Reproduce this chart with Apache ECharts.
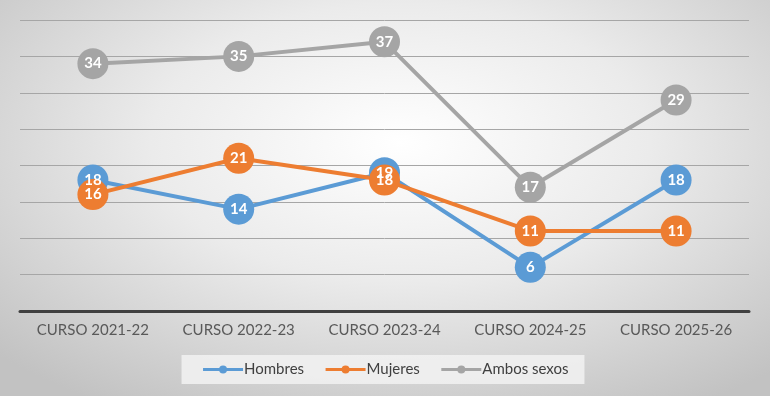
<!DOCTYPE html>
<html>
<head>
<meta charset="utf-8">
<script src="https://cdn.jsdelivr.net/npm/echarts@6/dist/echarts.min.js"></script>
<style>
  html, body { margin: 0; padding: 0; }
  #chart {
    width: 770px;
    height: 396px;
    background: radial-gradient(ellipse 72% 78% at 52% 36%, #ffffff 0%, #ebebeb 45%, #c2c2c2 100%);
  }
</style>
</head>
<body>
<div id="chart"></div>
<script>
const categories = ["CURSO 2021-22", "CURSO 2022-23", "CURSO 2023-24", "CURSO 2024-25", "CURSO 2025-26"];
const hombres = [18, 14, 19, 6, 18];
const mujeres = [16, 21, 18, 11, 11];
const ambos = [34, 35, 37, 17, 29];

const chart = echarts.init(document.getElementById("chart"));

const makeSeries = (name, data, color) => ({
  name,
  type: "line",
  data,
  symbol: "circle",
  symbolSize: 31,
  lineStyle: { color, width: 4 },
  itemStyle: { color },
  label: {
    show: true,
    position: "inside",
    color: "#fff",
    fontFamily: "Lato",
    fontWeight: "bold",
    fontSize: 15,
  },
  emphasis: { disabled: true },
});

const option = {
  backgroundColor: "transparent",
  animation: false,
  textStyle: { fontFamily: "Lato" },
  grid: { left: 20, right: 21, top: 20, bottom: 85, containLabel: false },
  xAxis: {
    type: "category",
    data: categories,
    axisLine: { lineStyle: { color: "#404040", width: 3 } },
    axisTick: { show: false },
    axisLabel: { color: "#595959", fontSize: 15, margin: 12, interval: 0 },
  },
  yAxis: {
    type: "value",
    min: 0,
    max: 40,
    interval: 5,
    axisLabel: { show: false },
    axisLine: { show: false },
    axisTick: { show: false },
    splitLine: { lineStyle: { color: "#a6a6a6", width: 1 } },
  },
  legend: {
    bottom: 12,
    left: "center",
    backgroundColor: "rgba(242,242,242,0.85)",
    padding: [7, 16, 7, 20],
    itemWidth: 40,
    itemHeight: 10,
    itemGap: 20,
    lineStyle: { width: 3 },
    textStyle: { color: "#404040", fontSize: 15, padding: [0, 0, 0, -4] },
    data: ["Hombres", "Mujeres", "Ambos sexos"],
  },
  series: [
    makeSeries("Hombres", hombres, "#5b9bd5"),
    makeSeries("Mujeres", mujeres, "#ed7d31"),
    makeSeries("Ambos sexos", ambos, "#a5a5a5"),
  ],
};

chart.setOption(option);
</script>
</body>
</html>
